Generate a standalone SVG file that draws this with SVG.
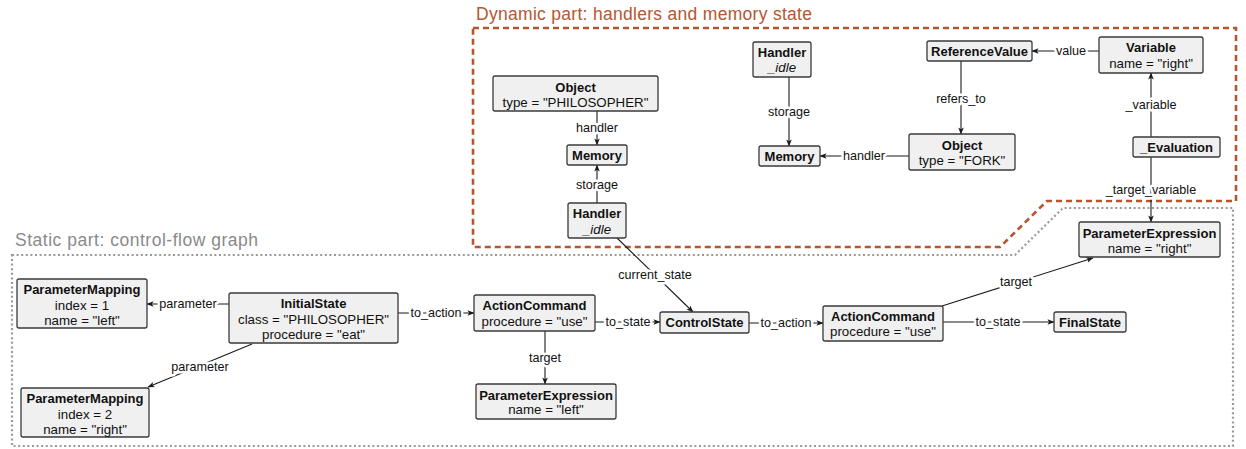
<svg xmlns="http://www.w3.org/2000/svg" width="1246" height="449" viewBox="0 0 1246 449">
<style>
.n rect{fill:#f0f0f0;stroke:#3a3a3a;stroke-width:1.3}
text{font-family:"Liberation Sans",Arial,sans-serif;font-size:13.3px;fill:#111;text-anchor:middle;dominant-baseline:central}
.b{font-weight:bold;font-size:13px}
.i{font-style:italic}
.e path{fill:none;stroke:#1a1a1a;stroke-width:1.1;marker-end:url(#ah)}
.e text{font-size:12.6px;paint-order:stroke;stroke:#fff;stroke-width:5px;stroke-linejoin:round}
.title{font-size:17.5px;text-anchor:start;dominant-baseline:auto}
</style>
<defs>
<marker id="ah" viewBox="0 0 8 8" refX="7.5" refY="4" markerWidth="7" markerHeight="7" markerUnits="userSpaceOnUse" orient="auto">
<path d="M0,0.8 L8,4 L0,7.2 L2,4 Z" fill="#1a1a1a"/>
</marker>
</defs>
<g id="regions">
<path d="M12,255 H1015 L1063,208 H1233 V446 H12 Z" fill="none" stroke="#999" stroke-width="2.2" stroke-dasharray="2 2.6"/>
<path d="M473,28 H1236 V201 H1047 L1000,247 H473 Z" fill="none" stroke="#b5562f" stroke-width="2.6" stroke-dasharray="6 4"/>
<text class="title" x="476" y="20" style="fill:#b5562f" textLength="336">Dynamic part: handlers and memory state</text>
<text class="title" x="15" y="246" style="fill:#8a8a8a" textLength="243">Static part: control-flow graph</text>
</g>
<g id="connectors" class="e">
<path d="M229,304 H147"/><text x="188" y="304">parameter</text>
<path d="M252,344 L148,387"/><text x="200" y="367">parameter</text>
<path d="M398,313 H474"/><text x="436" y="313">to_action</text>
<path d="M595,322 H660"/><text x="628" y="322">to_state</text>
<path d="M545,331 V384"/><text x="545" y="358">target</text>
<path d="M749,323 H823"/><text x="786" y="323">to_action</text>
<path d="M943,322 H1054"/><text x="998" y="322">to_state</text>
<path d="M942,306 L1093,258"/><text x="1016" y="282">target</text>
<path d="M597,111 V145"/><text x="597" y="128">handler</text>
<path d="M597,203 V165"/><text x="597" y="185">storage</text>
<path d="M617,238 L693,312"/><text x="655" y="275">current_state</text>
<path d="M789,77 V146"/><text x="789" y="112">storage</text>
<path d="M909,156 H820"/><text x="864" y="156">handler</text>
<path d="M961,61 V134"/><text x="961" y="99">refers_to</text>
<path d="M1099,51 H1032"/><text x="1071" y="51">value</text>
<path d="M1151,137 V73"/><text x="1151" y="105">_variable</text>
<path d="M1151,157 V222"/><text x="1151" y="190">_target_variable</text>
</g>
<g id="pm1" class="n"><rect x="17" y="279" width="130" height="49" rx="2"/><text class="b" x="82" y="289">ParameterMapping</text><text x="82" y="305">index = 1</text><text x="82" y="320">name = "left"</text></g>
<g id="pm2" class="n"><rect x="21" y="388" width="128" height="49" rx="2"/><text class="b" x="85" y="398">ParameterMapping</text><text x="85" y="414">index = 2</text><text x="85" y="429">name = "right"</text></g>
<g id="initial" class="n"><rect x="229" y="293" width="169" height="50" rx="2"/><text class="b" x="313.5" y="303">InitialState</text><text x="313.5" y="319">class = "PHILOSOPHER"</text><text x="313.5" y="334">procedure = "eat"</text></g>
<g id="ac1" class="n"><rect x="474" y="295" width="121" height="36" rx="2"/><text class="b" x="534.5" y="305">ActionCommand</text><text x="534.5" y="321">procedure = "use"</text></g>
<g id="peleft" class="n"><rect x="476" y="384" width="140" height="35" rx="2"/><text class="b" x="546" y="395">ParameterExpression</text><text x="546" y="409">name = "left"</text></g>
<g id="control" class="n"><rect x="660" y="312" width="89" height="21" rx="2"/><text class="b" x="704.5" y="322.5">ControlState</text></g>
<g id="ac2" class="n"><rect x="823" y="306" width="120" height="35" rx="2"/><text class="b" x="883" y="316">ActionCommand</text><text x="883" y="331">procedure = "use"</text></g>
<g id="final" class="n"><rect x="1054" y="312" width="72" height="20" rx="2"/><text class="b" x="1090" y="322">FinalState</text></g>
<g id="peright" class="n"><rect x="1079" y="222" width="141" height="35" rx="2"/><text class="b" x="1149.5" y="233">ParameterExpression</text><text x="1149.5" y="248">name = "right"</text></g>
<g id="objphil" class="n"><rect x="493" y="76" width="165" height="35" rx="2"/><text class="b" x="575.5" y="87">Object</text><text x="575.5" y="102">type = "PHILOSOPHER"</text></g>
<g id="memleft" class="n"><rect x="567" y="145" width="60" height="20" rx="2"/><text class="b" x="597" y="155.5">Memory</text></g>
<g id="hleft" class="n"><rect x="568" y="203" width="58" height="35" rx="2"/><text class="b" x="597" y="213">Handler</text><text class="i" x="597" y="229">_idle</text></g>
<g id="hright" class="n"><rect x="753" y="42" width="58" height="35" rx="2"/><text class="b" x="782" y="52">Handler</text><text class="i" x="782" y="67">_idle</text></g>
<g id="memright" class="n"><rect x="759" y="146" width="61" height="20" rx="2"/><text class="b" x="789.5" y="156.5">Memory</text></g>
<g id="refval" class="n"><rect x="927" y="41" width="105" height="20" rx="2"/><text class="b" x="979.5" y="51.5">ReferenceValue</text></g>
<g id="objfork" class="n"><rect x="909" y="134" width="106" height="36" rx="2"/><text class="b" x="962" y="145">Object</text><text x="962" y="160">type = "FORK"</text></g>
<g id="variable" class="n"><rect x="1099" y="37" width="104" height="36" rx="2"/><text class="b" x="1151" y="47">Variable</text><text x="1151" y="63">name = "right"</text></g>
<g id="eval" class="n"><rect x="1133" y="137" width="87" height="20" rx="2"/><text class="b" x="1176.5" y="147.5">_Evaluation</text></g>
</svg>
